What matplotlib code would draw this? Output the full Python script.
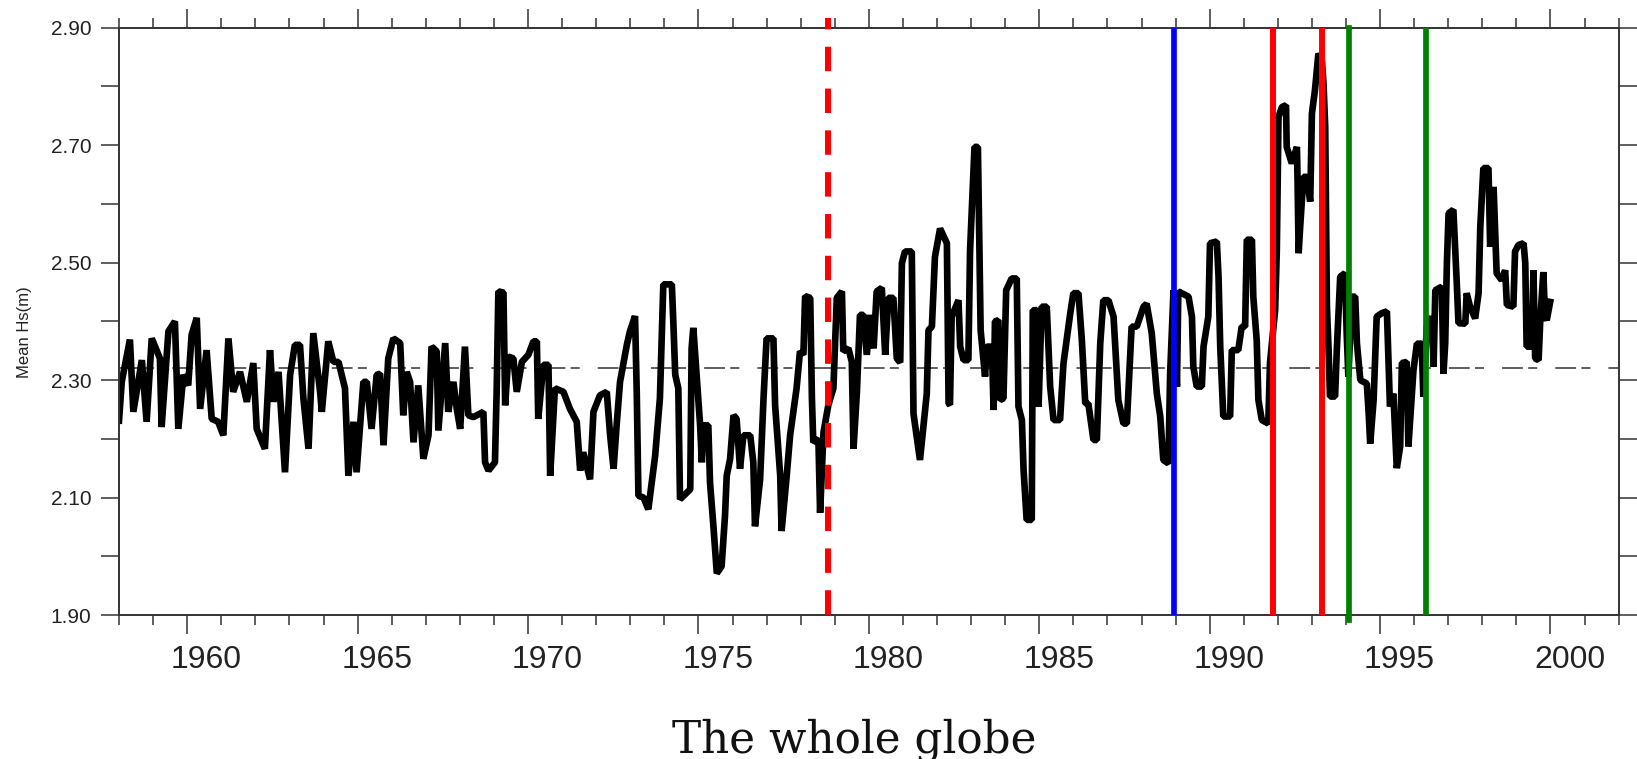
import matplotlib
matplotlib.use('Agg')
import matplotlib.pyplot as plt
import matplotlib.transforms as mtransforms
from matplotlib.ticker import MultipleLocator, FixedLocator, FormatStrFormatter

plt.rcParams['font.family'] = ['Liberation Sans', 'DejaVu Sans']
plt.rcParams['lines.scale_dashes'] = False

# monthly mean Hs (turning points), split by period
yr_58_65 = [1958.00, 1958.08, 1958.32, 1958.42, 1958.67, 1958.81, 1958.96, 1959.20, 1959.25, 1959.45,
            1959.64, 1959.74, 1959.89, 1960.03, 1960.13, 1960.28, 1960.38, 1960.57, 1960.72, 1960.91,
            1961.06, 1961.21, 1961.35, 1961.55, 1961.75, 1961.94, 1962.04, 1962.28, 1962.43, 1962.53,
            1962.68, 1962.87, 1963.02, 1963.16, 1963.31, 1963.41, 1963.56, 1963.70, 1963.90, 1963.95,
            1964.14, 1964.29, 1964.44, 1964.63, 1964.73, 1964.88, 1964.97, 1965.17, 1965.27, 1965.41,
            1965.56]
hs_58_65 = [2.231, 2.297, 2.369, 2.246, 2.334, 2.229, 2.371, 2.337, 2.220, 2.383,
            2.400, 2.217, 2.309, 2.291, 2.377, 2.406, 2.251, 2.351, 2.234, 2.229,
            2.206, 2.371, 2.280, 2.314, 2.263, 2.329, 2.217, 2.183, 2.351, 2.263,
            2.314, 2.143, 2.309, 2.360, 2.360, 2.269, 2.183, 2.380, 2.280, 2.246,
            2.366, 2.331, 2.331, 2.286, 2.137, 2.229, 2.143, 2.297, 2.297, 2.217,
            2.309]

yr_65_73 = [1965.66, 1965.76, 1965.90, 1966.05, 1966.25, 1966.34, 1966.44, 1966.54, 1966.64, 1966.78,
            1966.93, 1967.08, 1967.17, 1967.32, 1967.37, 1967.57, 1967.66, 1967.81, 1967.91, 1968.01,
            1968.15, 1968.25, 1968.40, 1968.69, 1968.74, 1968.84, 1969.03, 1969.08, 1969.13, 1969.28,
            1969.33, 1969.42, 1969.57, 1969.67, 1969.82, 1970.01, 1970.16, 1970.26, 1970.30, 1970.45,
            1970.60, 1970.65, 1970.79, 1971.04, 1971.23, 1971.43, 1971.53, 1971.62, 1971.82, 1971.92,
            1972.11, 1972.31, 1972.41, 1972.51, 1972.60, 1972.70, 1972.90, 1972.99, 1973.14, 1973.19,
            1973.24, 1973.39, 1973.53]
hs_65_73 = [2.311, 2.189, 2.337, 2.371, 2.363, 2.240, 2.314, 2.297, 2.194, 2.291,
            2.166, 2.206, 2.357, 2.349, 2.214, 2.363, 2.246, 2.297, 2.251, 2.217,
            2.357, 2.240, 2.237, 2.246, 2.160, 2.146, 2.160, 2.280, 2.451, 2.449,
            2.257, 2.340, 2.337, 2.280, 2.331, 2.343, 2.366, 2.366, 2.234, 2.326,
            2.326, 2.137, 2.286, 2.280, 2.251, 2.229, 2.146, 2.177, 2.131, 2.246,
            2.274, 2.280, 2.206, 2.149, 2.223, 2.297, 2.360, 2.383, 2.409, 2.280,
            2.103, 2.100, 2.080]

yr_73_81 = [1973.73, 1973.87, 1973.97, 1974.22, 1974.27, 1974.32, 1974.41, 1974.46, 1974.76, 1974.80,
            1974.85, 1975.05, 1975.10, 1975.15, 1975.29, 1975.34, 1975.44, 1975.54, 1975.68, 1975.78,
            1975.83, 1975.93, 1976.03, 1976.12, 1976.22, 1976.32, 1976.52, 1976.61, 1976.66, 1976.81,
            1976.91, 1977.00, 1977.20, 1977.25, 1977.40, 1977.44, 1977.59, 1977.69, 1977.88, 1977.98,
            1978.08, 1978.13, 1978.28, 1978.33, 1978.37, 1978.52, 1978.57, 1978.67, 1978.81, 1978.96,
            1979.06, 1979.21, 1979.25, 1979.40, 1979.50, 1979.55, 1979.65, 1979.74, 1979.84, 1979.94,
            1980.04, 1980.14, 1980.23, 1980.38, 1980.48, 1980.57, 1980.72, 1980.82, 1980.92]
hs_73_81 = [2.171, 2.269, 2.463, 2.463, 2.389, 2.309, 2.286, 2.097, 2.114, 2.354,
            2.389, 2.223, 2.160, 2.223, 2.223, 2.126, 2.051, 1.971, 1.983, 2.069,
            2.137, 2.166, 2.240, 2.234, 2.149, 2.206, 2.206, 2.160, 2.051, 2.131,
            2.269, 2.371, 2.371, 2.257, 2.137, 2.043, 2.137, 2.206, 2.286, 2.349,
            2.343, 2.443, 2.440, 2.269, 2.194, 2.200, 2.074, 2.211, 2.257, 2.286,
            2.440, 2.451, 2.349, 2.354, 2.331, 2.183, 2.280, 2.411, 2.411, 2.343,
            2.411, 2.354, 2.451, 2.457, 2.343, 2.440, 2.440, 2.337, 2.330]

yr_81_89 = [1980.97, 1981.06, 1981.26, 1981.31, 1981.50, 1981.70, 1981.75, 1981.85, 1981.94, 1982.09,
            1982.29, 1982.34, 1982.38, 1982.43, 1982.63, 1982.68, 1982.78, 1982.92, 1982.97, 1983.10,
            1983.20, 1983.28, 1983.41, 1983.46, 1983.61, 1983.66, 1983.70, 1983.80, 1983.85, 1983.95,
            1984.03, 1984.19, 1984.34, 1984.39, 1984.49, 1984.54, 1984.63, 1984.78, 1984.81, 1984.93,
            1984.98, 1985.07, 1985.22, 1985.32, 1985.42, 1985.61, 1985.71, 1985.91, 1986.00, 1986.15,
            1986.25, 1986.35, 1986.44, 1986.59, 1986.69, 1986.79, 1986.88, 1987.03, 1987.18, 1987.32,
            1987.47, 1987.57, 1987.71, 1987.86, 1988.06, 1988.15, 1988.30, 1988.45, 1988.55, 1988.64,
            1988.79]
hs_81_89 = [2.499, 2.519, 2.519, 2.243, 2.164, 2.277, 2.385, 2.391, 2.510, 2.558,
            2.533, 2.260, 2.258, 2.408, 2.436, 2.357, 2.334, 2.334, 2.521, 2.697,
            2.697, 2.385, 2.306, 2.357, 2.357, 2.249, 2.400, 2.402, 2.266, 2.269,
            2.453, 2.473, 2.473, 2.255, 2.232, 2.147, 2.062, 2.062, 2.419, 2.419,
            2.255, 2.425, 2.425, 2.289, 2.232, 2.232, 2.328, 2.414, 2.448, 2.448,
            2.368, 2.260, 2.260, 2.198, 2.198, 2.363, 2.436, 2.436, 2.408, 2.266,
            2.226, 2.226, 2.391, 2.391, 2.425, 2.430, 2.380, 2.277, 2.238, 2.164,
            2.158]

yr_89_97 = [1988.84, 1988.94, 1989.04, 1989.08, 1989.38, 1989.48, 1989.52, 1989.62, 1989.77, 1989.82,
            1989.96, 1990.01, 1990.21, 1990.26, 1990.31, 1990.40, 1990.60, 1990.65, 1990.84, 1990.94,
            1991.04, 1991.09, 1991.24, 1991.28, 1991.38, 1991.43, 1991.53, 1991.72, 1991.77, 1991.92,
            1991.97, 1992.02, 1992.12, 1992.24, 1992.26, 1992.41, 1992.56, 1992.58, 1992.61, 1992.65,
            1992.75, 1992.85, 1992.95, 1993.00, 1993.09, 1993.19, 1993.29, 1993.34, 1993.39, 1993.44,
            1993.49, 1993.53, 1993.68, 1993.73, 1993.83, 1993.97, 1994.02, 1994.07, 1994.17, 1994.27,
            1994.32, 1994.42, 1994.61, 1994.66, 1994.71, 1994.81, 1994.90, 1995.05, 1995.20, 1995.29,
            1995.39, 1995.49, 1995.59, 1995.64, 1995.78, 1995.83, 1995.98, 1996.08, 1996.22, 1996.27,
            1996.37, 1996.52, 1996.57, 1996.62, 1996.81, 1996.86, 1996.91, 1996.96, 1997.01, 1997.15,
            1997.25, 1997.30]
hs_89_97 = [2.311, 2.453, 2.289, 2.451, 2.442, 2.408, 2.323, 2.289, 2.289, 2.357,
            2.408, 2.533, 2.536, 2.476, 2.357, 2.238, 2.238, 2.351, 2.351, 2.391,
            2.391, 2.539, 2.539, 2.442, 2.368, 2.266, 2.232, 2.226, 2.329, 2.419,
            2.521, 2.748, 2.765, 2.768, 2.697, 2.669, 2.697, 2.635, 2.516, 2.556,
            2.646, 2.646, 2.604, 2.754, 2.794, 2.856, 2.845, 2.805, 2.731, 2.425,
            2.351, 2.272, 2.272, 2.351, 2.476, 2.482, 2.380, 2.306, 2.442, 2.442,
            2.363, 2.300, 2.294, 2.249, 2.192, 2.266, 2.408, 2.414, 2.417, 2.255,
            2.277, 2.150, 2.187, 2.329, 2.331, 2.187, 2.317, 2.362, 2.362, 2.272,
            2.391, 2.408, 2.323, 2.453, 2.459, 2.311, 2.362, 2.499, 2.584, 2.590,
            2.465, 2.397]

yr_97_00 = [1997.50, 1997.54, 1997.64, 1997.79, 1997.89, 1997.94, 1998.03, 1998.18, 1998.23, 1998.33,
            1998.38, 1998.42, 1998.57, 1998.67, 1998.72, 1998.91, 1998.96, 1999.06, 1999.21, 1999.26,
            1999.30, 1999.45, 1999.50, 1999.55, 1999.65, 1999.70, 1999.79, 1999.84, 1999.89, 1999.99]
hs_97_00 = [2.396, 2.448, 2.425, 2.405, 2.448, 2.561, 2.661, 2.661, 2.527, 2.629,
            2.550, 2.482, 2.470, 2.487, 2.428, 2.425, 2.519, 2.530, 2.533, 2.499,
            2.357, 2.357, 2.487, 2.337, 2.334, 2.402, 2.484, 2.408, 2.402, 2.433]

years = yr_58_65 + yr_65_73 + yr_73_81 + yr_81_89 + yr_89_97 + yr_97_00
hs = hs_58_65 + hs_65_73 + hs_73_81 + hs_81_89 + hs_89_97 + hs_97_00

mean_hs = 2.32
dashed_break = 1978.81
blue_break = 1988.96
red_breaks = [1991.85, 1993.30]
green_breaks = [1994.09, 1996.35]

xticks = [1960, 1965, 1970, 1975, 1980, 1985, 1990, 1995, 2000]
yticks = [1.90, 2.10, 2.30, 2.50, 2.70, 2.90]
yminor = [2.00, 2.20, 2.40, 2.60, 2.80]

fig = plt.figure(figsize=(16.37, 7.59), dpi=100)
ax = fig.add_axes([0.0727, 0.1897, 0.9161, 0.7738])

ax.axhline(mean_hs, color='#333333', lw=1.1, dashes=(15, 3.8, 6.5, 13), zorder=1)
ax.plot(years, hs, color='black', lw=4.8, solid_joinstyle='bevel', zorder=2)

# break lines
ax.plot([dashed_break, dashed_break], [1.017, 0], transform=ax.get_xaxis_transform(),
        color='red', lw=4.3, ls=(9.4, (17.6, 12.5)), clip_on=False, zorder=3)
ax.axvline(blue_break, color='blue', lw=4.1, zorder=3)
for x in red_breaks:
    ax.axvline(x, color='red', lw=4.3, zorder=3)
ax.axvline(green_breaks[0], ymin=-0.009, color='green', lw=4.1, clip_on=False, zorder=3)
ax.axvline(green_breaks[1], color='green', lw=4.1, zorder=3)

ax.set_xlim(1958, 2002)
ax.set_ylim(1.9, 2.9)
ax.xaxis.set_major_locator(FixedLocator(xticks))
ax.xaxis.set_minor_locator(MultipleLocator(1))
ax.yaxis.set_major_locator(FixedLocator(yticks))
ax.yaxis.set_minor_locator(FixedLocator(yminor))
ax.yaxis.set_major_formatter(FormatStrFormatter('%.2f'))

for s in ax.spines.values():
    s.set_linewidth(1.4)
    s.set_color('#333333')

ax.tick_params(axis='both', which='both', direction='out', top=True, right=True,
               color='#333333', width=1.1, labelcolor='#222222')
ax.tick_params(axis='x', which='major', length=13.7, pad=8, labelsize=23)
ax.tick_params(axis='x', which='minor', length=7.5)
ax.tick_params(axis='y', which='both', length=13, pad=7, labelsize=15)

# year labels sit a bit right of their ticks in the original
shift = mtransforms.ScaledTranslation(0.194, 0, fig.dpi_scale_trans)
for lab in ax.get_xticklabels():
    lab.set_transform(lab.get_transform() + shift)

fig.text(0.0147, 0.5626, 'Mean Hs(m)', rotation=90, ha='center', va='center',
         fontsize=12, color='#222222')
fig.text(0.522, 0.0092, 'The whole globe', ha='center', va='baseline',
         family='DejaVu Serif', fontsize=31.5, color='#111111')

fig.savefig('out.png', dpi=100)
